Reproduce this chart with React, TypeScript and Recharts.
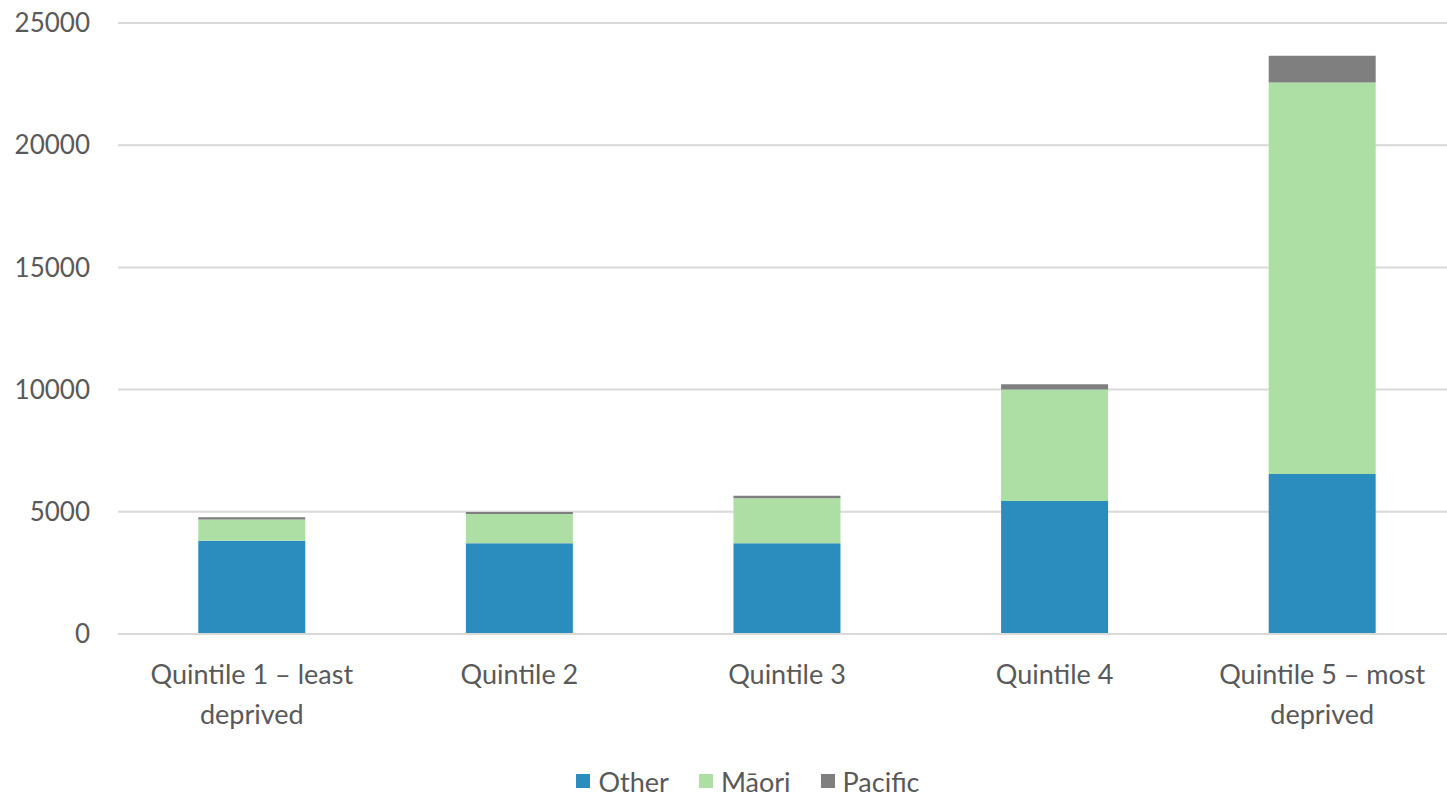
import React from "react";
import { BarChart, Bar, XAxis, YAxis, CartesianGrid, Legend } from "recharts";

const categories = [
  "Quintile 1 – least\ndeprived",
  "Quintile 2",
  "Quintile 3",
  "Quintile 4",
  "Quintile 5 – most\ndeprived",
];
const otherValues = [3820, 3710, 3710, 5440, 6550];
const maoriValues = [860, 1200, 1840, 4560, 16020];
const pacificValues = [95, 80, 110, 215, 1090];
const yTicks = [0, 5000, 10000, 15000, 20000, 25000];

const seriesNames = ["Other", "Māori", "Pacific"];
const seriesColors = ["#2b8cbe", "#addfa4", "#7f7f7f"];

const data = categories.map((c, i) => ({
  category: c,
  Other: otherValues[i],
  "Māori": maoriValues[i],
  Pacific: pacificValues[i],
}));

const FONT = "Lato, 'Noto Sans', sans-serif";
const TEXT = "#595959";

const XTick = (props: any) => {
  const { x, y, payload } = props;
  const lines = String(payload.value).split("\n");
  return (
    <g transform={`translate(${x},${y})`}>
      {lines.map((l: string, i: number) => (
        <text
          key={i}
          x={0}
          y={42 + i * 40}
          textAnchor="middle"
          fill={TEXT}
          fontSize={27}
          fontFamily={FONT}
        >
          {l}
        </text>
      ))}
    </g>
  );
};

const LegendContent = () => (
  <div
    style={{
      display: "flex",
      justifyContent: "center",
      alignItems: "center",
      height: 30,
      fontFamily: FONT,
      fontSize: 27,
      color: TEXT,
      paddingLeft: 40,
    }}
  >
    {seriesNames.map((n, i) => (
      <div key={n} style={{ display: "flex", alignItems: "center", marginRight: i < 2 ? 30 : 0 }}>
        <div style={{ width: 14, height: 14, background: seriesColors[i], marginRight: 8 }} />
        <span>{n}</span>
      </div>
    ))}
  </div>
);

export default function App() {
  return (
    <div
      style={{
        position: "absolute",
        left: 0,
        top: 0,
        width: 1447,
        height: 796,
        overflow: "hidden",
        background: "#fff",
      }}
    >
      <BarChart
        width={1460}
        height={796}
        data={data}
        margin={{ top: 23, right: 4, left: 0, bottom: 0 }}
        barCategoryGap="30%"
      >
        <CartesianGrid vertical={false} stroke="#d9d9d9" strokeWidth={2} />
        <XAxis
          dataKey="category"
          height={132}
          tick={<XTick />}
          tickLine={false}
          axisLine={{ stroke: "#d9d9d9", strokeWidth: 2 }}
          interval={0}
        />
        <YAxis
          width={118}
          domain={[0, 25000]}
          ticks={yTicks}
          axisLine={false}
          tickLine={false}
          tickSize={0}
          tickMargin={28}
          tick={{ fill: TEXT, fontSize: 26, fontFamily: FONT }}
        />
        <Legend verticalAlign="bottom" height={30} content={<LegendContent />} />
        {seriesNames.map((n, i) => (
          <Bar key={n} dataKey={n} stackId="a" fill={seriesColors[i]} isAnimationActive={false} />
        ))}
      </BarChart>
    </div>
  );
}
